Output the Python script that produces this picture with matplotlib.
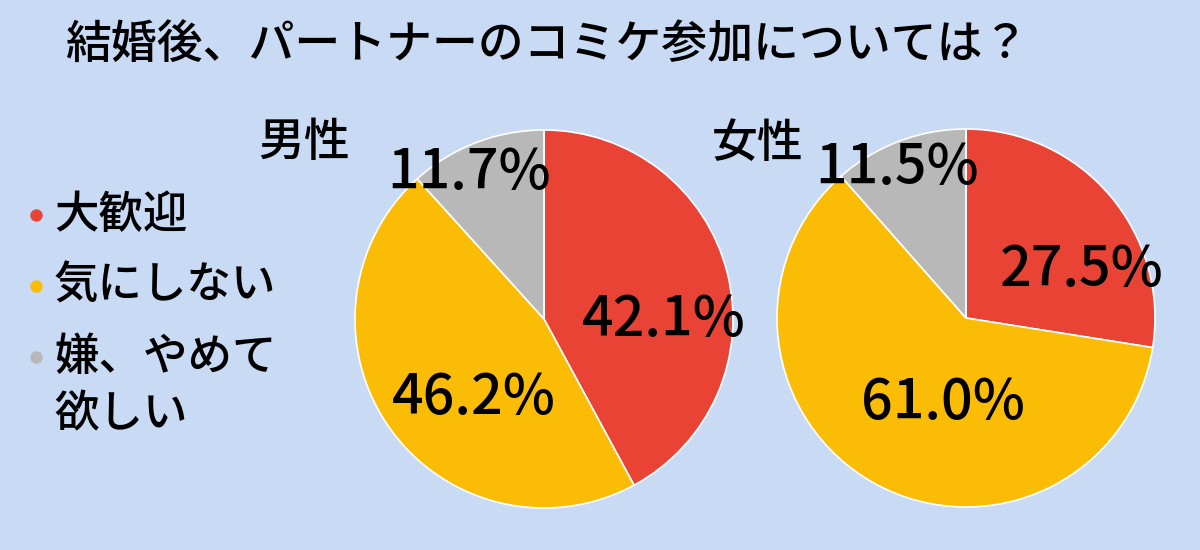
import matplotlib
matplotlib.use("Agg")
import matplotlib.pyplot as plt

plt.rcParams['font.family'] = ['Noto Sans CJK JP', 'DejaVu Sans']
plt.rcParams['font.weight'] = 'medium'

# ---- data ----
title = "結婚後、パートナーのコミケ参加については？"
categories = ["大歓迎", "気にしない", "嫌、やめて\n欲しい"]
groups = ["男性", "女性"]
male_values = [42.1, 46.2, 11.7]
female_values = [27.5, 61.0, 11.5]
colors = ["#E94335", "#FBBC05", "#B8B8B8"]
bg = "#C9DAF5"

W, H = 1200, 550
fig = plt.figure(figsize=(W / 100, H / 100), dpi=100, facecolor=bg)
ax = fig.add_axes([0, 0, 1, 1])
ax.set_facecolor(bg)

def Y(py):
    return H - py

# pies
pie_centers = [(544, Y(319)), (966, Y(318))]
radius = 189
label_pos = [
    [(664, 320), (474, 398), (469, 173)],
    [(1082, 270), (943, 403), (897, 168)],
]
for vals, c, lp in zip([male_values, female_values], pie_centers, label_pos):
    ax.pie(vals, colors=colors, startangle=90, counterclock=False,
           center=c, radius=radius,
           wedgeprops=dict(edgecolor="white", linewidth=1.2))
    for v, (lx, ly) in zip(vals, lp):
        ax.text(lx, Y(ly), f"{v:.1f}%", fontsize=40, ha="center", va="center",
                color="black", fontweight="medium")

ax.set_xlim(0, W)
ax.set_ylim(0, H)
ax.set_aspect("equal")
ax.axis("off")

# title
ax.text(65, Y(45), title, fontsize=33, ha="left", va="center", color="black")

# group labels
ax.text(258, Y(143), groups[0], fontsize=33, ha="left", va="center")
ax.text(712, Y(143), groups[1], fontsize=33, ha="left", va="center")

# legend
leg_y = [215, 286, 357]
for cat, col, y in zip(categories, colors, leg_y):
    ax.scatter([36], [Y(y)], s=80, color=col, zorder=5, linewidths=0)
    for i, ln in enumerate(cat.split("\n")):
        ax.text(54, Y(y + i * 58), ln, fontsize=32, ha="left", va="center")

fig.savefig("out.png", dpi=100, facecolor=bg)
